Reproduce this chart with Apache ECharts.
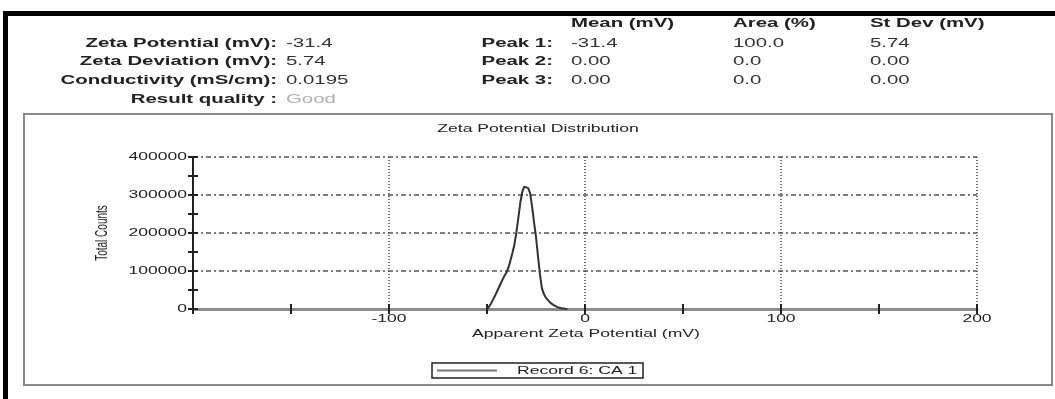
<!DOCTYPE html>
<html>
<head>
<meta charset="utf-8">
<title>Zeta Potential Distribution</title>
<script src="https://cdn.jsdelivr.net/npm/echarts@6/dist/echarts.min.js"></script>
<style>
  html, body { margin: 0; padding: 0; background: #fff; }
  #main { width: 1055px; height: 399px; }
</style>
</head>
<body>
<div id="main"></div>
<script>
// results block
const summaryLabels = ['Zeta Potential (mV):', 'Zeta Deviation (mV):', 'Conductivity (mS/cm):', 'Result quality :'];
const summaryValues = ['-31.4', '5.74', '0.0195', 'Good'];
const peakLabels = ['Peak 1:', 'Peak 2:', 'Peak 3:'];
const peakColumns = ['Mean (mV)', 'Area (%)', 'St Dev (mV)'];
const peakMean = ['-31.4', '0.00', '0.00'];
const peakArea = ['100.0', '0.0', '0.0'];
const peakStDev = ['5.74', '0.00', '0.00'];

// distribution curve
const zetaMv = [-50, -49, -48, -47, -46, -45, -44, -43, -42, -41, -40, -39, -38, -37, -36, -35, -34, -33, -32, -31,
  -30, -29, -28, -27, -26, -25, -24, -23, -22, -21, -20, -19, -18, -17, -16, -15, -14, -13, -12, -11, -10, -9];
const totalCounts = [0, 6000, 14000, 24000, 34000, 45000, 56000, 67000, 78000, 88000, 97000, 110000, 128000, 148000, 170000, 202000, 240000, 280000, 308000, 322000,
  326000, 318000, 305000, 270000, 228000, 190000, 140000, 92000, 55000, 40000, 30000, 24000, 18000, 14000, 10000, 7000, 5000, 3500, 2000, 1000, 400, 0];
const xTicks = [-100, 0, 100, 200];
const yTicks = [0, 100000, 200000, 300000, 400000];
const recordName = 'Record 6: CA 1';

const chart = echarts.init(document.getElementById('main'));
const FONT = '"Liberation Sans", Arial, sans-serif';

// stretched text, the reference is scaled wide
function txt(x, y, text, o) {
  o = o || {};
  return {
    type: 'text', x: x, y: y, scaleX: o.sx || 1.7, scaleY: o.sy || 1, rotation: o.rot || 0,
    style: {
      text: text,
      font: (o.bold ? 'bold ' : '') + (o.size || 12) + 'px ' + FONT,
      fill: o.color || '#222',
      align: o.align || 'left',
      verticalAlign: 'middle'
    }
  };
}

const option = {
  animation: false,
  backgroundColor: '#fff',
  grid: { left: 193, right: 78, top: 157, bottom: 90 },
  xAxis: [
    {
      type: 'value', min: -200, max: 200, interval: 100,
      axisLine: { onZero: false, lineStyle: { color: '#8c8c8c', width: 3 } },
      axisTick: { length: 5, lineStyle: { color: '#222', width: 2 } },
      minorTick: { show: true, splitNumber: 2, length: 5, lineStyle: { color: '#222', width: 2 } },
      axisLabel: { show: false },
      splitLine: { show: true, lineStyle: { color: '#444', width: 1.5, type: [1, 2] } }
    },
    {
      type: 'value', min: -200, max: 200, interval: 50, position: 'bottom',
      axisLine: { show: false, onZero: false },
      axisTick: { inside: true, length: 5, lineStyle: { color: '#222', width: 2 } },
      axisLabel: { show: false },
      splitLine: { show: false }
    }
  ],
  yAxis: [
    {
      type: 'value', min: 0, max: 400000, interval: 100000,
      axisLine: { show: true, onZero: false, lineStyle: { color: '#222', width: 2 } },
      axisTick: { show: true, length: 5, lineStyle: { color: '#222', width: 2 } },
      minorTick: { show: true, splitNumber: 2, length: 5, lineStyle: { color: '#222', width: 2 } },
      axisLabel: { show: false },
      splitLine: { show: true, lineStyle: { color: '#555', width: 1.5, type: [5, 3, 2, 3] } }
    },
    {
      type: 'value', min: 0, max: 400000, interval: 50000, position: 'left',
      axisLine: { show: false, onZero: false },
      axisTick: { show: true, inside: true, length: 5, lineStyle: { color: '#222', width: 2 } },
      axisLabel: { show: false },
      splitLine: { show: false }
    }
  ],
  series: [
    {
      name: recordName,
      type: 'line',
      showSymbol: false,
      data: zetaMv.map((v, i) => [v, totalCounts[i]]),
      lineStyle: { color: '#333', width: 2 },
      z: 5
    }
  ]
};
chart.setOption(option);

const g = [];
// frames
g.push({ type: 'rect', shape: { x: 3, y: 11, width: 1052, height: 5 }, style: { fill: '#000' } });
g.push({ type: 'rect', shape: { x: 3, y: 11, width: 5, height: 388 }, style: { fill: '#000' } });
g.push({ type: 'rect', shape: { x: 24, y: 114, width: 1028, height: 271 }, style: { fill: 'none', stroke: '#8a8a8a', lineWidth: 2 } });

// left summary
const rowY = [44, 62, 81, 100];
summaryLabels.forEach((s, i) => {
  g.push(txt(277, rowY[i], s, { bold: true, align: 'right' }));
  g.push(txt(286, rowY[i], summaryValues[i], { color: i === 3 ? '#b0b0b0' : '#333' }));
});
// peak table
const colX = [571, 733, 870];
peakColumns.forEach((s, i) => g.push(txt(colX[i], 24, s, { bold: true })));
peakLabels.forEach((s, i) => {
  g.push(txt(553, rowY[i], s, { bold: true, align: 'right' }));
  g.push(txt(colX[0], rowY[i], peakMean[i], { color: '#333' }));
  g.push(txt(colX[1], rowY[i], peakArea[i], { color: '#333' }));
  g.push(txt(colX[2], rowY[i], peakStDev[i], { color: '#333' }));
});

// chart texts
g.push(txt(538, 129, 'Zeta Potential Distribution', { size: 11, sx: 1.6, align: 'center' }));
g.push(txt(586, 334, 'Apparent Zeta Potential (mV)', { size: 11, sx: 1.6, align: 'center' }));
g.push(txt(103, 233, 'Total Counts', { size: 10, sx: 1, sy: 1.6, rot: Math.PI / 2, align: 'center' }));

// tick labels placed through the axis scales
yTicks.forEach(v => {
  const p = chart.convertToPixel({ gridIndex: 0 }, [-200, v]);
  g.push(txt(p[0] - 6, p[1], String(v), { size: 10, sx: 1.75, align: 'right' }));
});
xTicks.forEach(v => {
  const p = chart.convertToPixel({ gridIndex: 0 }, [v, 0]);
  g.push(txt(p[0], p[1] + 10, String(v), { size: 10, sx: 1.75, align: 'center' }));
});

// legend box
g.push({ type: 'rect', shape: { x: 432, y: 363, width: 211, height: 15 }, style: { fill: '#fff', stroke: '#222', lineWidth: 1.5 } });
g.push({ type: 'line', shape: { x1: 437, y1: 370.5, x2: 497, y2: 370.5 }, style: { stroke: '#777', lineWidth: 2 } });
g.push(txt(517, 371, recordName, { size: 11, sx: 1.6 }));

chart.setOption({ graphic: g });
</script>
</body>
</html>
